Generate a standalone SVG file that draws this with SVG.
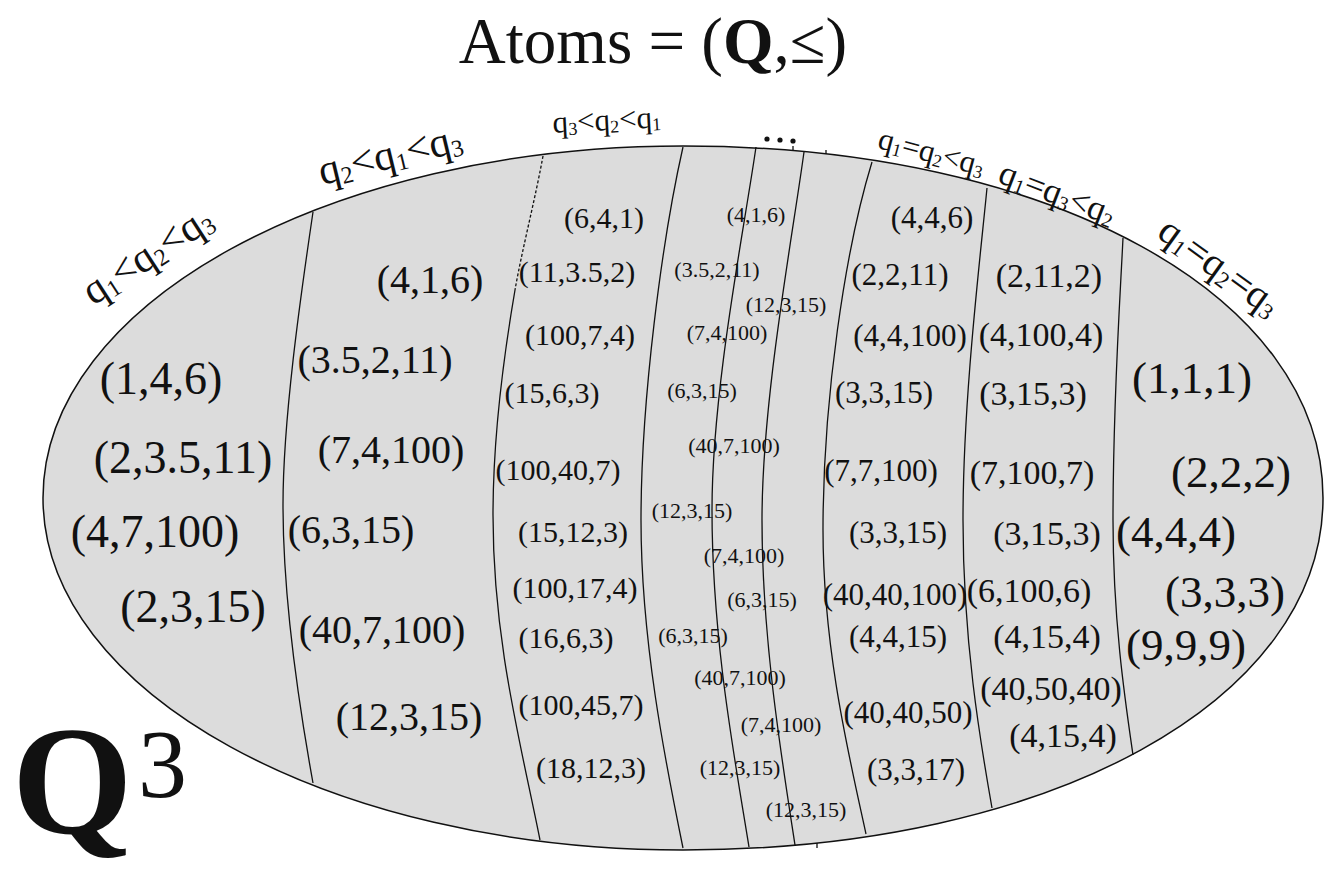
<svg xmlns="http://www.w3.org/2000/svg" width="1324" height="872" viewBox="0 0 1324 872">
<style>
text{font-family:"Liberation Serif","Times New Roman",serif;fill:#111}
.t{text-anchor:middle}
.r1{font-size:46px}
.r2{font-size:40px}
.r3{font-size:30px}
.r4{font-size:22px}
.r6{font-size:31px}
.r7{font-size:34px}
.r8{font-size:45px}
.div{fill:none;stroke:#111;stroke-width:1.3}
.dash{stroke-dasharray:3 2}
</style>
<rect width="1324" height="872" fill="#ffffff"/>
<g id="title">
<text x="653" y="63" class="t" font-size="65">Atoms = (<tspan font-weight="bold">Q</tspan>,≤)</text>
</g>
<g id="space-label">
<text x="12" y="833" font-size="155" font-weight="bold">Q</text>
<text x="138" y="797" font-size="98">3</text>
</g>
<g id="ellipse">
<path d="M683,146 C1051,146 1323,295.6 1323,498 C1323,700.4 1051,850 683,850 C329.7,850 43,692.3 43,498 C43,303.7 329.7,146 683,146 Z" fill="#dcdcdc" stroke="#111" stroke-width="1.5"/>
</g>
<g id="dividers">
<path class="div" d="M313,212 C300,300 283,420 283,505 C283,600 298,700 313,783"/>
<path class="div dash" d="M543,156 C535,200 522,250 515,290"/>
<path class="div" d="M515,290 C503,360 493,440 493,515 C493,640 520,740 540,840"/>
<path class="div" d="M683,147 C662,240 641,400 641,520 C641,640 665,760 683,848"/>
<path class="div" d="M756,147 C744,230 712,390 712,510 C712,640 735,760 749,847"/>
<path class="div" d="M804,152 C792,240 762,400 762,520 C762,640 782,760 795,845"/>
<path class="div" d="M872,162 C845,250 823,400 823,530 C823,650 850,760 866,834"/>
<path class="div" d="M987,188 C980,260 963,400 963,520 C963,640 980,740 992,808"/>
<path class="div" d="M1123,238 C1120,300 1113,400 1113,520 C1113,620 1125,700 1133,755"/>
<path class="div" d="M793,146 V151 M826,150 V154 M817,843 V848"/>
<circle cx="767" cy="139" r="2.6" fill="#111"/>
<circle cx="780" cy="140" r="2.6" fill="#111"/>
<circle cx="793" cy="141" r="2.6" fill="#111"/>
</g>
<g id="region-labels">
<text class="t" font-size="42" transform="translate(152,262) rotate(-33)" y="5">q<tspan font-size="24" dy="4">1</tspan><tspan dy="-4">&lt;q</tspan><tspan font-size="24" dy="4">2</tspan><tspan dy="-4">&lt;q</tspan><tspan font-size="24" dy="4">3</tspan></text>
<text class="t" font-size="42" transform="translate(392,163) rotate(-13.5)" y="5">q<tspan font-size="24" dy="4">2</tspan><tspan dy="-4">&lt;q</tspan><tspan font-size="24" dy="4">1</tspan><tspan dy="-4">&lt;q</tspan><tspan font-size="24" dy="4">3</tspan></text>
<text class="t" font-size="31" transform="translate(607,126) rotate(-3)" y="4">q<tspan font-size="18" dy="3">3</tspan><tspan dy="-3">&lt;q</tspan><tspan font-size="18" dy="3">2</tspan><tspan dy="-3">&lt;q</tspan><tspan font-size="18" dy="3">1</tspan></text>
<text class="t" font-size="31" transform="translate(930,158) rotate(15)" y="4">q<tspan font-size="18" dy="3">1</tspan><tspan dy="-3">=q</tspan><tspan font-size="18" dy="3">2</tspan><tspan dy="-3">&lt;q</tspan><tspan font-size="18" dy="3">3</tspan></text>
<text class="t" font-size="35" transform="translate(1055,200) rotate(21)" y="4">q<tspan font-size="20" dy="3">1</tspan><tspan dy="-3">=q</tspan><tspan font-size="20" dy="3">3</tspan><tspan dy="-3">&lt;q</tspan><tspan font-size="20" dy="3">2</tspan></text>
<text class="t" font-size="40" transform="translate(1215,273) rotate(36)" y="5">q<tspan font-size="23" dy="4">1</tspan><tspan dy="-4">=q</tspan><tspan font-size="23" dy="4">2</tspan><tspan dy="-4">=q</tspan><tspan font-size="23" dy="4">3</tspan></text>
</g>
<g id="region-1" class="t r1">
<text x="161" y="394">(1,4,6)</text>
<text x="183" y="473">(2,3.5,11)</text>
<text x="155" y="547">(4,7,100)</text>
<text x="193" y="622">(2,3,15)</text>
</g>
<g id="region-2" class="t r2">
<text x="430" y="293">(4,1,6)</text>
<text x="375" y="373">(3.5,2,11)</text>
<text x="391" y="463">(7,4,100)</text>
<text x="351" y="543">(6,3,15)</text>
<text x="382" y="643">(40,7,100)</text>
<text x="409" y="730">(12,3,15)</text>
</g>
<g id="region-3" class="t r3">
<text x="604" y="228">(6,4,1)</text>
<text x="577" y="282">(11,3.5,2)</text>
<text x="580" y="345">(100,7,4)</text>
<text x="552" y="403">(15,6,3)</text>
<text x="558" y="480">(100,40,7)</text>
<text x="573" y="542">(15,12,3)</text>
<text x="575" y="598">(100,17,4)</text>
<text x="566" y="648">(16,6,3)</text>
<text x="581" y="715">(100,45,7)</text>
<text x="591" y="778">(18,12,3)</text>
</g>
<g id="region-4" class="t r4">
<text x="756" y="222">(4,1,6)</text>
<text x="717" y="277">(3.5,2,11)</text>
<text x="786" y="312">(12,3,15)</text>
<text x="727" y="340">(7,4,100)</text>
<text x="702" y="398">(6,3,15)</text>
<text x="734" y="453">(40,7,100)</text>
<text x="692" y="518">(12,3,15)</text>
<text x="744" y="563">(7,4,100)</text>
<text x="762" y="607">(6,3,15)</text>
<text x="693" y="643">(6,3,15)</text>
<text x="740" y="685">(40,7,100)</text>
<text x="781" y="732">(7,4,100)</text>
<text x="740" y="775">(12,3,15)</text>
<text x="806" y="817">(12,3,15)</text>
</g>
<g id="region-6" class="t r6">
<text x="932" y="228">(4,4,6)</text>
<text x="900" y="285">(2,2,11)</text>
<text x="910" y="346">(4,4,100)</text>
<text x="884" y="403">(3,3,15)</text>
<text x="881" y="481">(7,7,100)</text>
<text x="898" y="543">(3,3,15)</text>
<text x="895" y="605">(40,40,100)</text>
<text x="898" y="647">(4,4,15)</text>
<text x="908" y="723">(40,40,50)</text>
<text x="916" y="780">(3,3,17)</text>
</g>
<g id="region-7" class="t r7">
<text x="1049" y="287">(2,11,2)</text>
<text x="1041" y="346">(4,100,4)</text>
<text x="1033" y="405">(3,15,3)</text>
<text x="1032" y="484">(7,100,7)</text>
<text x="1047" y="545">(3,15,3)</text>
<text x="1029" y="602">(6,100,6)</text>
<text x="1047" y="648">(4,15,4)</text>
<text x="1051" y="700">(40,50,40)</text>
<text x="1063" y="747">(4,15,4)</text>
</g>
<g id="region-8" class="t r8">
<text x="1192" y="393">(1,1,1)</text>
<text x="1231" y="487">(2,2,2)</text>
<text x="1176" y="547">(4,4,4)</text>
<text x="1225" y="607">(3,3,3)</text>
<text x="1186" y="660">(9,9,9)</text>
</g>
</svg>
